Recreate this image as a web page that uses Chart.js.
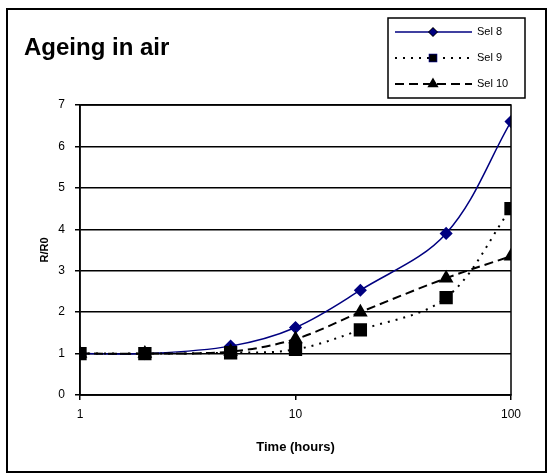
<!DOCTYPE html>
<html>
<head>
<meta charset="utf-8">
<script src="https://cdn.jsdelivr.net/npm/chart.js@4"></script>
<style>
  body { margin: 0; background: #fff; }
  #wrap { width: 549px; height: 476px; }
</style>
</head>
<body>
<div id="wrap"><canvas id="ageChart" width="549" height="476"></canvas></div>
<script>
// chart data
const hours = [1, 2, 5, 10, 20, 50, 100];
const sel8 = [1.0, 1.0, 1.18, 1.63, 2.53, 3.9, 6.6];
const sel9 = [1.0, 1.0, 1.02, 1.1, 1.57, 2.35, 4.5];
const sel10 = [1.0, 1.0, 1.05, 1.35, 2.0, 2.82, 3.35];
const seriesNames = ['Sel 8', 'Sel 9', 'Sel 10'];
const xTickValues = [1, 10, 100];
const yTickValues = [0, 1, 2, 3, 4, 5, 6, 7];

const tickFont = { family: "'Liberation Sans Narrow', 'Liberation Sans', Arial, sans-serif", size: 12 };

function toPoints(values) {
    return hours.map((h, i) => ({ x: h, y: values[i] }));
}

// Title, legend box and frames drawn on top of the chart
const extras = {
    id: 'extras',
    afterDraw(chart) {
        const ctx = chart.ctx;
        const area = chart.chartArea;
        ctx.save();

        // outer frame
        ctx.strokeStyle = '#000';
        ctx.lineWidth = 2;
        ctx.strokeRect(7, 9, 539, 463);

        // plot area border
        ctx.lineWidth = 1.5;
        ctx.strokeRect(area.left, area.top, area.right - area.left, area.bottom - area.top);

        // title
        ctx.fillStyle = '#000';
        ctx.font = "bold 24px 'Liberation Sans', Arial, sans-serif";
        ctx.textBaseline = 'alphabetic';
        ctx.textAlign = 'left';
        ctx.fillText('Ageing in air', 24, 55);

        // legend
        ctx.lineWidth = 1.5;
        ctx.strokeRect(388, 18, 137, 80);
        const rows = [32, 58, 84];
        chart.data.datasets.forEach((ds, i) => {
            const y = rows[i];
            ctx.save();
            ctx.strokeStyle = ds.borderColor;
            ctx.lineWidth = ds.borderWidth;
            ctx.setLineDash(ds.borderDash || []);
            ctx.beginPath();
            ctx.moveTo(395, y);
            ctx.lineTo(472, y);
            ctx.stroke();
            ctx.restore();
            Chart.helpers.drawPoint(ctx, {
                pointStyle: ds.pointStyle,
                radius: ds.legendRadius,
                borderWidth: 1
            }, 433, y);
            ctx.fillStyle = ds.pointBackgroundColor;
            ctx.strokeStyle = ds.pointBorderColor;
            ctx.fill();
            ctx.fillStyle = '#000';
            ctx.font = "11px 'Liberation Sans', Arial, sans-serif";
            ctx.textBaseline = 'middle';
            ctx.fillText(ds.label, 477, y);
        });
        ctx.restore();
    }
};

const ctx = document.getElementById('ageChart').getContext('2d');
const ageChart = new Chart(ctx, {
    type: 'line',
    data: {
        datasets: [{
            label: seriesNames[0],
            data: toPoints(sel8),
            order: 3,
            borderColor: '#000080',
            borderWidth: 1.5,
            pointStyle: 'rectRot',
            pointRadius: 5.5,
            legendRadius: 4,
            pointBackgroundColor: '#000080',
            pointBorderColor: '#000080',
            tension: 0.35
        }, {
            label: seriesNames[1],
            data: toPoints(sel9),
            order: 1,
            borderColor: '#000',
            borderWidth: 2,
            borderDash: [2, 6],
            pointStyle: 'rect',
            pointRadius: 8,
            legendRadius: 5,
            pointBackgroundColor: '#000',
            pointBorderColor: '#000',
            tension: 0.35
        }, {
            label: seriesNames[2],
            data: toPoints(sel10),
            order: 2,
            borderColor: '#000',
            borderWidth: 2,
            borderDash: [9, 5],
            pointStyle: 'triangle',
            pointRadius: 6.5,
            legendRadius: 5,
            pointBackgroundColor: '#000',
            pointBorderColor: '#000',
            tension: 0.35
        }]
    },
    options: {
        responsive: false,
        animation: false,
        layout: { padding: { top: 105, right: 38, left: 0, bottom: 0 } },
        plugins: {
            legend: { display: false },
            title: { display: false },
            tooltip: { enabled: false }
        },
        scales: {
            x: {
                type: 'logarithmic',
                min: 1,
                max: 100,
                afterBuildTicks: scale => { scale.ticks = xTickValues.map(v => ({ value: v })); },
                afterFit: scale => { scale.height = 81; },
                ticks: {
                    color: '#000',
                    font: tickFont,
                    padding: 7,
                    autoSkip: false,
                    maxRotation: 0,
                    callback: v => String(v)
                },
                grid: { drawOnChartArea: false, color: '#000', tickLength: 5, lineWidth: 1.5 },
                border: { color: '#000', width: 1.5 },
                title: {
                    display: true,
                    text: 'Time (hours)',
                    color: '#000',
                    font: { family: "'Liberation Sans', Arial, sans-serif", size: 13, weight: 'bold' },
                    padding: { top: 0, bottom: 21 }
                }
            },
            y: {
                min: 0,
                max: 7,
                afterBuildTicks: scale => { scale.ticks = yTickValues.map(v => ({ value: v })); },
                afterFit: scale => { scale.width = 80; },
                ticks: { color: '#000', font: tickFont, padding: 10 },
                grid: { color: '#000', tickLength: 5, lineWidth: 1.5 },
                border: { color: '#000', width: 1.5 },
                title: {
                    display: true,
                    text: 'R/R0',
                    color: '#000',
                    font: { family: "'Liberation Sans', Arial, sans-serif", size: 11, weight: 'bold' },
                    padding: { top: 38, bottom: 0 }
                }
            }
        }
    },
    plugins: [extras]
});
</script>
</body>
</html>
